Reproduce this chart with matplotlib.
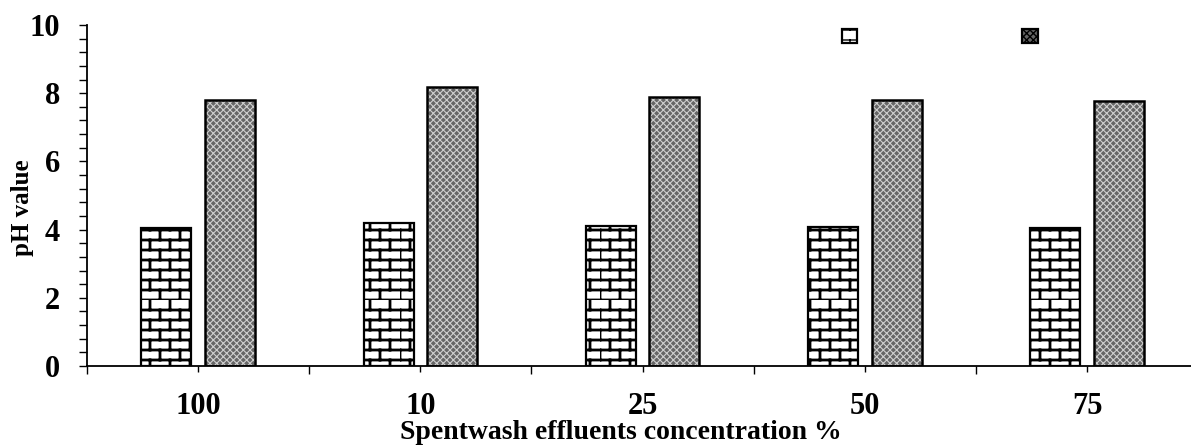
import matplotlib
matplotlib.use('Agg')
import matplotlib.pyplot as plt
import matplotlib.hatch as mhatch
from matplotlib.patches import Patch
from matplotlib.ticker import MultipleLocator, FixedLocator, NullFormatter
import numpy as np

categories = ['100', '10', '25', '50', '75']
series_a = [4.04, 4.18, 4.11, 4.08, 4.06]
series_b = [7.80, 8.19, 7.90, 7.80, 7.77]


class BrickHatch(mhatch.HatchPatternBase):
    """Brick pattern, used in place of the '-' hatch."""
    def __init__(self, hatch, density):
        self.rows = 10 if hatch.count('-') else 0
        self.cols = 5
        self.num_vertices = (self.rows + self.rows * self.cols) * 2

    def set_vertices_and_codes(self, vertices, codes):
        h = 1.0 / self.rows
        w = 1.0 / self.cols
        segs = []
        for r in range(self.rows):
            y0 = r * h
            segs.append(((0.0, y0), (1.0, y0)))
            off = 0.0 if r % 2 == 0 else w / 2
            for c in range(self.cols):
                xx = off + c * w
                segs.append(((xx, y0), (xx, y0 + h)))
        pts = np.array([p for s in segs for p in s])
        vertices[:] = pts
        codes[0::2] = matplotlib.path.Path.MOVETO
        codes[1::2] = matplotlib.path.Path.LINETO


mhatch._hatch_types = [BrickHatch if t is mhatch.HorizontalHatch else t
                       for t in mhatch._hatch_types]

plt.rcParams['font.family'] = ['Liberation Serif', 'DejaVu Serif']
plt.rcParams['font.weight'] = 'bold'

fig = plt.figure(figsize=(11.91, 4.47), dpi=100)
ax = fig.add_axes([87 / 1191, 1 - 366 / 447, 1 - 87 / 1191, (366 - 25) / 447])

x = np.arange(len(categories))
off = 0.143
w = 0.225
gray = '#666666'
dotc = '#cfcfcf'

with plt.rc_context({'hatch.linewidth': 2.0}):
    ax.bar(x - off, series_a, w, facecolor='white', edgecolor='black',
           hatch='-', linewidth=1.6, zorder=2)
    h1 = Patch(facecolor='white', edgecolor='black', hatch='-', linewidth=1.6)
with plt.rc_context({'hatch.linewidth': 0.8}):
    ax.bar(x + off, series_b, w, facecolor=gray, edgecolor=dotc,
           hatch='xxxxx', linewidth=0, zorder=2)
    h2 = Patch(facecolor=gray, edgecolor='black', hatch='xxxxx', linewidth=1.6)
ax.bar(x + off, series_b, w, facecolor='none', edgecolor='black',
       linewidth=1.8, zorder=3)

ax.set_xlim(-0.5, (1191 - 198) / 222.25)
ax.set_ylim(0, 10)

for s in ['top', 'right']:
    ax.spines[s].set_visible(False)
for s in ['left', 'bottom']:
    ax.spines[s].set_linewidth(1.3)

ax.yaxis.set_major_locator(MultipleLocator(2))
ax.yaxis.set_minor_locator(MultipleLocator(0.4))
ax.tick_params(axis='y', which='both', direction='out', length=5.5, width=1.0,
               labelsize=22, pad=14)

ax.set_xticks(x)
ax.set_xticklabels(categories)
ax.xaxis.set_minor_locator(FixedLocator(np.arange(-0.5, 4.6, 1.0)))
ax.xaxis.set_minor_formatter(NullFormatter())
ax.tick_params(axis='x', which='major', direction='out', length=4, width=1.0,
               labelsize=22, pad=15)
ax.tick_params(axis='x', which='minor', direction='out', length=6, width=1.0)

ax.set_xlabel('Spentwash effluents concentration %', fontsize=20,
              fontweight='bold')
ax.xaxis.set_label_coords((621 - 87) / 1104, (366 - 420) / 341)
ax.set_ylabel('pH value', fontsize=18, fontweight='bold')
ax.yaxis.set_label_coords((34 - 87) / 1104, (366 - 208) / 341)

ax.legend(handles=[h1, h2], labels=['', ''], ncol=2, frameon=False,
          loc='center left', bbox_to_anchor=(842 / 1191, 1 - 37 / 447),
          bbox_transform=fig.transFigure, borderpad=0, borderaxespad=0,
          handlelength=1.0, handleheight=1.0, handletextpad=0,
          columnspacing=10.8, prop={'size': 11})

fig.savefig('out.png', dpi=100)
